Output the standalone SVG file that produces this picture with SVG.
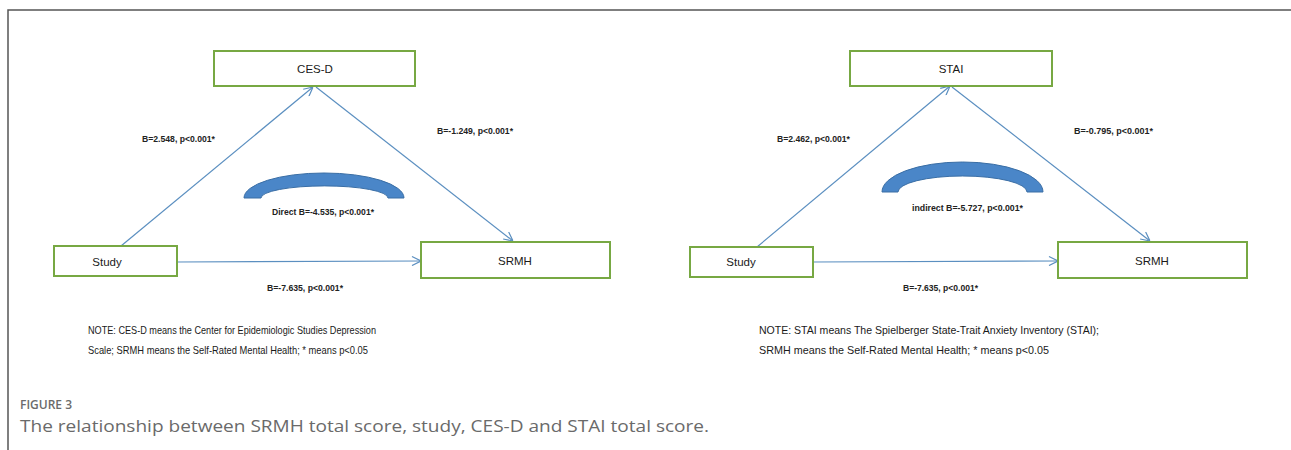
<svg xmlns="http://www.w3.org/2000/svg" width="1291" height="450" viewBox="0 0 1291 450">
<style>
.box{fill:#fff;stroke:#77a843;stroke-width:2}
.nt{font-family:"Liberation Sans",Arial,sans-serif;font-size:11.5px;fill:#1a1a1a;text-anchor:middle}
.el{font-family:"Liberation Sans",Arial,sans-serif;font-size:9.5px;font-weight:bold;fill:#222}
.note{font-family:"Liberation Sans",Arial,sans-serif;font-size:11px;fill:#1a1a1a}
.con{stroke:#5b8fc0;stroke-width:1.2;fill:none}
.arc{fill:#4a86c8;stroke:#3a6ea5;stroke-width:1}
</style>
<defs>
<marker id="ah" viewBox="0 0 10 10" refX="10" refY="5" markerWidth="10" markerHeight="10" markerUnits="userSpaceOnUse" orient="auto">
<path d="M1,0.5 L10,5 L1,9.5" fill="none" stroke="#5b8fc0" stroke-width="1.2"/>
</marker>
</defs>
<rect width="1291" height="450" fill="#fff"/>
<path d="M8,450 V10 H1291" fill="none" stroke="#555" stroke-width="1.5"/>

<g id="connectors">
<line class="con" x1="121" y1="246" x2="313" y2="87" marker-end="url(#ah)"/>
<line class="con" x1="316" y1="87" x2="513" y2="241" marker-end="url(#ah)"/>
<line class="con" x1="177" y1="262" x2="421" y2="261" marker-end="url(#ah)"/>
<line class="con" x1="757" y1="247" x2="950" y2="86" marker-end="url(#ah)"/>
<line class="con" x1="952" y1="87" x2="1150" y2="241" marker-end="url(#ah)"/>
<line class="con" x1="813" y1="262" x2="1058" y2="261" marker-end="url(#ah)"/>
</g>

<g id="arc-left"><path class="arc" d="M244,198 A80,25 0 0 1 404,198 L388,198 A63,12 0 0 0 261,198 Z"/></g>
<g id="arc-right"><path class="arc" d="M882,192 A80.5,30 0 0 1 1043,192 L1027,192 A64.5,16 0 0 0 898,192 Z"/></g>

<g id="node-cesd"><rect class="box" x="214" y="51" width="201" height="35"/><text class="nt" x="315" y="73">CES-D</text></g>
<g id="node-study-left"><rect class="box" x="54" y="246" width="123" height="30"/><text class="nt" x="107" y="266">Study</text></g>
<g id="node-srmh-left"><rect class="box" x="421" y="242" width="189" height="36"/><text class="nt" x="515" y="265">SRMH</text></g>

<g id="node-stai"><rect class="box" x="850" y="51" width="202" height="35"/><text class="nt" x="951" y="73">STAI</text></g>
<g id="node-study-right"><rect class="box" x="690" y="247" width="123" height="30"/><text class="nt" x="741" y="266">Study</text></g>
<g id="node-srmh-right"><rect class="box" x="1058" y="242" width="189" height="36"/><text class="nt" x="1152" y="265">SRMH</text></g>

<g id="labels">
<text class="el" x="142" y="142" textLength="73" lengthAdjust="spacingAndGlyphs">B=2.548, p&lt;0.001*</text>
<text class="el" x="437" y="134" textLength="76" lengthAdjust="spacingAndGlyphs">B=-1.249, p&lt;0.001*</text>
<text class="el" x="272" y="215" textLength="102" lengthAdjust="spacingAndGlyphs">Direct B=-4.535, p&lt;0.001*</text>
<text class="el" x="267" y="291" textLength="76" lengthAdjust="spacingAndGlyphs">B=-7.635, p&lt;0.001*</text>
<text class="el" x="777" y="142" textLength="73" lengthAdjust="spacingAndGlyphs">B=2.462, p&lt;0.001*</text>
<text class="el" x="1074" y="134" textLength="79" lengthAdjust="spacingAndGlyphs">B=-0.795, p&lt;0.001*</text>
<text class="el" x="912" y="211" textLength="111" lengthAdjust="spacingAndGlyphs">indirect B=-5.727, p&lt;0.001*</text>
<text class="el" x="903" y="291" textLength="75" lengthAdjust="spacingAndGlyphs">B=-7.635, p&lt;0.001*</text>
</g>

<g id="notes">
<text class="note" x="88" y="334" textLength="288" lengthAdjust="spacingAndGlyphs">NOTE: CES-D means the Center for Epidemiologic Studies Depression</text>
<text class="note" x="88" y="354" textLength="280" lengthAdjust="spacingAndGlyphs">Scale; SRMH means the Self-Rated Mental Health; * means p&lt;0.05</text>
<text class="note" x="759" y="334" textLength="340" lengthAdjust="spacingAndGlyphs">NOTE: STAI means The Spielberger State-Trait Anxiety Inventory (STAI);</text>
<text class="note" x="759" y="354" textLength="290" lengthAdjust="spacingAndGlyphs">SRMH means the Self-Rated Mental Health; * means p&lt;0.05</text>
</g>

<g id="caption">
<text x="20" y="409" font-family="'Open Sans','Liberation Sans',sans-serif" font-size="12px" font-weight="600" fill="#6b6b6b">FIGURE 3</text>
<text x="20" y="432" font-family="'Open Sans','Liberation Sans',sans-serif" font-size="16px" fill="#6a6a6a" textLength="689" lengthAdjust="spacingAndGlyphs">The relationship between SRMH total score, study, CES-D and STAI total score.</text>
</g>
</svg>
